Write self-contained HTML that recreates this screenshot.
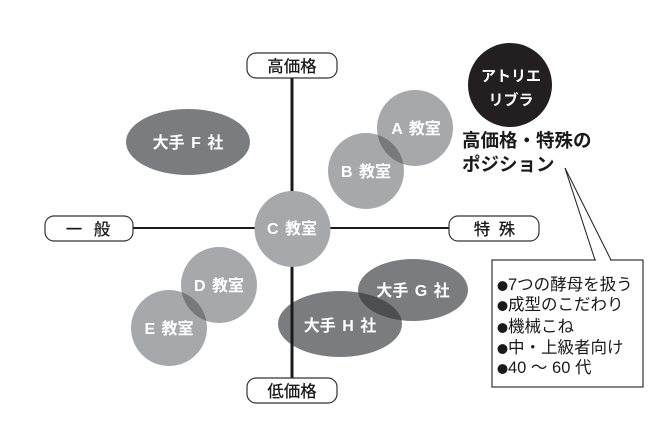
<!DOCTYPE html>
<html>
<head>
<meta charset="utf-8">
<style>
html,body{margin:0;padding:0;background:#fff;}
svg{display:block;}
text{font-family:"Liberation Sans","Noto Sans CJK JP",sans-serif;}
.cjk{font-family:"Noto Sans CJK JP",sans-serif;}
</style>
</head>
<body>
<svg width="660" height="428" viewBox="0 0 660 428" xmlns="http://www.w3.org/2000/svg">
  <defs>
    <clipPath id="clipA"><circle cx="415" cy="128" r="38"/></clipPath>
    <clipPath id="clipD"><circle cx="219" cy="285" r="38"/></clipPath>
    <clipPath id="clipG"><ellipse cx="413" cy="290" rx="55" ry="31"/></clipPath>
  </defs>

  <!-- Ellipses F, G, H -->
  <ellipse cx="188" cy="142" rx="62" ry="33" fill="#7b7c7e"/>
  <ellipse cx="413" cy="290" rx="55" ry="31" fill="#7b7c7e"/>
  <ellipse cx="340" cy="324" rx="62" ry="33" fill="#7b7c7e"/>
  <ellipse cx="340" cy="324" rx="62" ry="33" fill="#4d4e50" clip-path="url(#clipG)"/>

  <!-- Axes -->
  <line x1="292" y1="78" x2="292" y2="378" stroke="#1a1a1a" stroke-width="3"/>
  <line x1="133" y1="228" x2="449" y2="228" stroke="#1a1a1a" stroke-width="2"/>

  <!-- Circles -->
  <circle cx="415" cy="128" r="38" fill="#a7a8aa"/>
  <circle cx="366" cy="171" r="38" fill="#a7a8aa"/>
  <circle cx="366" cy="171" r="38" fill="#78797b" clip-path="url(#clipA)"/>
  <circle cx="292.5" cy="229" r="38" fill="#a7a8aa"/>
  <circle cx="219" cy="285" r="38" fill="#a7a8aa"/>
  <circle cx="169" cy="328" r="38" fill="#a7a8aa"/>
  <circle cx="169" cy="328" r="38" fill="#78797b" clip-path="url(#clipD)"/>

  <!-- Black circle -->
  <circle cx="510" cy="85" r="42" fill="#231f20"/>

  <!-- Label boxes -->
  <rect x="247" y="53" width="90" height="25" rx="9" fill="#fff" stroke="#333" stroke-width="1.2"/>
  <rect x="247" y="378" width="90" height="25" rx="9" fill="#fff" stroke="#333" stroke-width="1.2"/>
  <rect x="45" y="216" width="88" height="25" rx="9" fill="#fff" stroke="#333" stroke-width="1.2"/>
  <rect x="449" y="216" width="90" height="25" rx="9" fill="#fff" stroke="#333" stroke-width="1.2"/>

  <g font-size="16.5" fill="#1a1a1a" text-anchor="middle" font-weight="500">
    <text x="292" y="72">高価格</text>
    <text x="292" y="397">低価格</text>
    <text x="74" y="235">一</text>
    <text x="102" y="235">般</text>
    <text x="482" y="235">特</text>
    <text x="507" y="235">殊</text>
  </g>

  <!-- White labels -->
  <g font-size="16" fill="#fff" font-weight="bold" text-anchor="middle" word-spacing="2">
    <text x="188" y="148">大手 F 社</text>
    <text x="413" y="296">大手 G 社</text>
    <text x="340" y="331">大手 H 社</text>
    <text x="416" y="134">A 教室</text>
    <text x="366" y="177">B 教室</text>
    <text x="292" y="234">C 教室</text>
    <text x="219" y="291">D 教室</text>
    <text x="169" y="334">E 教室</text>
    <text x="511" y="81" font-size="15">アトリエ</text>
    <text x="511" y="105" font-size="15">リブラ</text>
  </g>

  <!-- Heading -->
  <g font-size="18.5" font-weight="bold" fill="#1a1a1a">
    <text x="462" y="147">高価格・特殊の</text>
    <text x="462" y="171">ポジション</text>
  </g>

  <!-- Callout -->
  <rect x="492" y="260" width="151" height="127" fill="#fff" stroke="#333" stroke-width="1.2"/>
  <line x1="565" y1="168" x2="595" y2="260" stroke="#1a1a1a" stroke-width="1"/>
  <line x1="565" y1="168" x2="611" y2="260" stroke="#1a1a1a" stroke-width="1"/>
  <line x1="596" y1="260" x2="610" y2="260" stroke="#fff" stroke-width="2"/>

  <g font-size="16.5" fill="#1a1a1a">
    <text x="497" y="290"><tspan class="cjk" font-size="11">●</tspan>7つの酵母を扱う</text>
    <text x="497" y="310"><tspan class="cjk" font-size="11">●</tspan>成型のこだわり</text>
    <text x="497" y="332"><tspan class="cjk" font-size="11">●</tspan>機械こね</text>
    <text x="497" y="353"><tspan class="cjk" font-size="11">●</tspan>中・上級者向け</text>
    <text x="497" y="373"><tspan class="cjk" font-size="11">●</tspan>40 ～ 60 代</text>
  </g>
</svg>
</body>
</html>
